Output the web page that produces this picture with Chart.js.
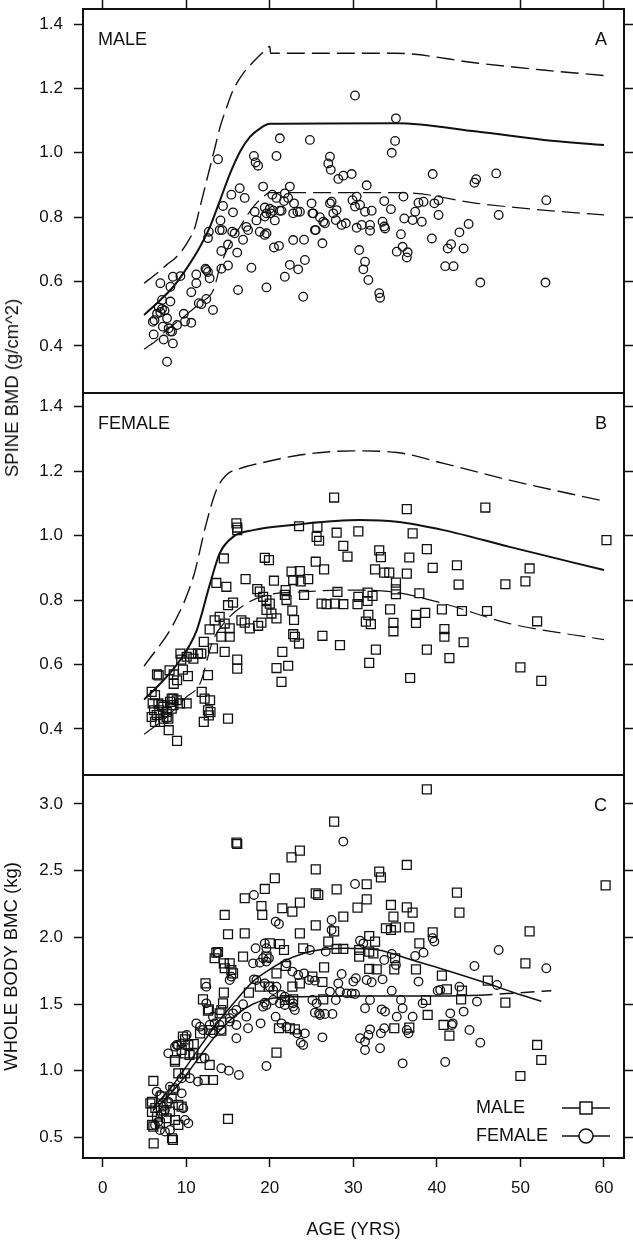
<!DOCTYPE html>
<html>
<head>
<meta charset="utf-8">
<script src="https://cdn.jsdelivr.net/npm/chart.js@4.4.1/dist/chart.umd.min.js"></script>
<style>
  body { margin: 0; background: #fff; width: 633px; height: 1241px; position: relative; overflow: hidden; font-family: "Liberation Sans", Arial, sans-serif; }
  canvas { position: absolute; left: 0; }
  #spineTitle { position: absolute; left: 12px; top: 388px; transform: translate(-50%, -50%) rotate(-90deg); font-size: 18.5px; color: #111; white-space: nowrap; }
</style>
</head>
<body>
<canvas id="chartA" width="633" height="396" style="top:0"></canvas>
<canvas id="chartB" width="633" height="390" style="top:389px"></canvas>
<canvas id="chartC" width="633" height="470" style="top:771px"></canvas>
<div id="spineTitle">SPINE BMD (g/cm^2)</div>
<script>
// ---- data (age in years, value) ----
const ageTicks = [0, 10, 20, 30, 40, 50, 60];
const spineTicks = [0.4, 0.6, 0.8, 1.0, 1.2, 1.4];
const bmcTicks = [0.5, 1.0, 1.5, 2.0, 2.5, 3.0];

// panel A: male spine BMD
const maleSpinePts = [
  [13.8,0.98],[18.1,0.99],[18.3,0.97],[18.6,0.96],[20.8,0.99],[21.2,1.045],[24.8,1.04],
  [19.2,0.895],[16.4,0.89],[15.4,0.87],[17.0,0.86],[14.4,0.835],[15.6,0.815],
  [14.0,0.76],[14.3,0.76],[14.1,0.79],[15.5,0.755],[15.8,0.75],[16.8,0.73],[16.1,0.69],[15.0,0.715],[14.2,0.695],[15.0,0.65],[14.2,0.64],
  [12.6,0.735],[12.7,0.755],[12.3,0.64],[12.4,0.636],[12.6,0.63],[12.8,0.61],[11.2,0.595],[10.6,0.567],[11.2,0.622],[11.5,0.533],[11.8,0.53],[12.4,0.546],[13.2,0.512],
  [9.3,0.617],[8.4,0.615],[6.9,0.595],[8.1,0.584],[7.1,0.543],[8.1,0.538],
  [6.7,0.52],[7.1,0.515],[7.4,0.51],[6.5,0.5],[6.9,0.505],[6.0,0.475],[6.2,0.48],[7.7,0.486],[9.7,0.5],[9.85,0.476],[10.6,0.472],[8.9,0.465],[7.2,0.46],[7.9,0.455],[8.3,0.445],[8.1,0.445],[6.1,0.436],[7.3,0.42],[8.4,0.408],[7.7,0.351],
  [19.6,0.582],[16.2,0.574],[17.8,0.643],[24.0,0.553],[21.8,0.615],[22.4,0.652],[23.4,0.638],[24.2,0.667],[22.8,0.729],[20.5,0.706],[21.1,0.711],
  [19.6,0.75],[19.4,0.745],[18.8,0.755],[17.4,0.76],[17.2,0.77],[18.4,0.79],[19.4,0.802],[19.6,0.812],[20.1,0.812],[20.6,0.79],[18.2,0.817],[20.4,0.82],[21.2,0.82],[21.4,0.82],[19.4,0.83],[20.0,0.826],[21.7,0.85],[22.8,0.812],[23.6,0.817],[25.0,0.843],[25.2,0.812],[25.4,0.76],[24.1,0.73],
  [21.8,0.874],[22.4,0.895],[22.2,0.86],[22.9,0.843],[23.3,0.817],[20.3,0.87],[20.8,0.86],
  [30.2,1.178],[35.1,1.107],[35.0,1.037],[34.6,1.0],[27.2,0.988],[27.0,0.967],[27.3,0.947],[28.2,0.919],[28.8,0.929],[29.8,0.934],[31.6,0.899],[39.5,0.934],[44.5,0.907],[44.7,0.918],[47.1,0.936],[53.1,0.853],[47.4,0.807],
  [25.1,0.812],[26.0,0.8],[26.4,0.786],[26.6,0.781],[25.5,0.76],[26.3,0.719],[27.2,0.843],[27.4,0.848],[27.6,0.812],[28.0,0.822],[27.9,0.791],[28.6,0.776],[29.1,0.781],[29.9,0.853],[30.4,0.864],[30.2,0.833],[30.8,0.838],[31.4,0.817],[32.2,0.82],[30.4,0.767],[31.0,0.776],[32.0,0.776],[32.0,0.758],[30.7,0.698],[31.4,0.662],[31.2,0.638],[31.8,0.605],[33.1,0.564],[33.2,0.55],
  [33.7,0.85],[34.5,0.825],[33.5,0.786],[33.7,0.771],[33.8,0.765],[35.7,0.747],[35.2,0.693],[35.9,0.708],[36.5,0.691],[36.4,0.675],[36.0,0.864],[36.1,0.796],[37.1,0.791],[37.4,0.817],[37.8,0.845],[38.4,0.848],[38.2,0.786],[39.4,0.734],[39.7,0.843],[40.2,0.853],[40.2,0.807],
  [41.3,0.703],[41.7,0.716],[41.0,0.648],[42.0,0.648],[42.7,0.753],[43.2,0.703],[43.8,0.779],[45.2,0.597],[53.0,0.597]
];
const maleSpineUpper = [[4.95,0.595],[6.5,0.626],[7.65,0.652],[8.85,0.677],[10.05,0.718],[11.05,0.77],[11.65,0.832],[12.25,0.894],[12.85,0.956],[13.45,1.018],[14.05,1.08],[14.85,1.142],[15.6,1.194],[16.8,1.246],[18.0,1.282],[19.2,1.313],[20.0,1.33],[20.1,1.309],[35,1.309],[45,1.278],[52.7,1.257],[60,1.24]];
const maleSpineMid = [[4.95,0.496],[6.9,0.543],[8.45,0.584],[10.05,0.641],[11.65,0.708],[12.85,0.771],[14.05,0.853],[15.25,0.936],[16.45,1.004],[17.65,1.05],[18.85,1.076],[20.0,1.09],[35.2,1.092],[44.8,1.066],[52.8,1.04],[60,1.024]];
const maleSpineLower = [[4.95,0.39],[6.46,0.418],[7.66,0.45],[9.26,0.481],[10.45,0.507],[11.65,0.533],[13.25,0.574],[14.05,0.646],[15.25,0.719],[16.45,0.771],[18.05,0.833],[19.25,0.864],[20.0,0.876],[36,0.876],[44.8,0.843],[52.7,0.822],[60,0.807]];

// panel B: female spine BMD
const femaleSpinePts = [
  [16.0,1.038],[16.1,1.025],[16.1,1.017],[23.5,1.029],[14.5,0.929],[19.4,0.931],[19.9,0.924],[17.1,0.865],[13.6,0.853],[14.8,0.841],[20.5,0.86],[22.6,0.888],[23.6,0.89],[22.8,0.862],[23.7,0.858],[24.6,0.865],
  [18.5,0.834],[18.8,0.826],[19.2,0.81],[19.6,0.8],[20.0,0.789],[21.9,0.831],[21.8,0.816],[22.0,0.8],[24.1,0.816],[15.0,0.784],[15.6,0.792],[19.6,0.769],[20.2,0.758],[20.8,0.743],[22.7,0.767],[22.9,0.738],
  [16.6,0.737],[17.0,0.73],[17.6,0.712],[18.6,0.72],[19.0,0.73],[12.8,0.709],[13.4,0.737],[14.0,0.748],[14.6,0.727],[15.2,0.712],[15.2,0.686],[14.2,0.686],[13.2,0.65],[14.6,0.639],[22.8,0.694],[23.0,0.686],[23.5,0.665],
  [12.1,0.67],[11.4,0.634],[11.8,0.634],[10.85,0.618],[10.05,0.624],[9.3,0.634],[9.4,0.615],[10.6,0.634],[9.6,0.584],[10.2,0.564],[12.6,0.567],[16.1,0.615],[16.1,0.587],[20.8,0.589],[22.2,0.596],[21.5,0.639],[21.4,0.546],
  [6.5,0.569],[6.7,0.566],[8.0,0.582],[8.5,0.569],[8.5,0.54],[8.9,0.551],
  [5.86,0.515],[6.26,0.505],[5.98,0.479],[6.14,0.458],[6.46,0.443],[6.26,0.422],[6.78,0.458],[7.26,0.469],[7.66,0.453],[8.06,0.484],[8.46,0.494],[8.86,0.489],[9.25,0.479],[10.05,0.479],[7.66,0.437],[7.26,0.432],[7.86,0.432],
  [6.66,0.479],[7.06,0.474],[8.46,0.474],[8.26,0.463],[5.86,0.437],[6.86,0.422],[8.26,0.494],[7.9,0.396],[8.9,0.363],
  [11.85,0.515],[12.2,0.494],[12.85,0.489],[12.6,0.458],[12.9,0.452],[12.1,0.422],[12.7,0.442],[15.0,0.432],
  [27.7,1.118],[36.4,1.082],[45.8,1.087],[60.3,0.986],[25.7,1.027],[25.6,0.996],[25.9,0.984],[28.0,1.009],[30.6,1.013],[37.1,1.007],[28.8,0.968],[29.3,0.935],[33.1,0.954],[33.3,0.933],[38.8,0.958],[36.7,0.932],[25.5,0.919],[26.5,0.895],
  [32.6,0.895],[33.7,0.885],[34.3,0.885],[36.4,0.882],[39.5,0.9],[42.4,0.908],[51.1,0.898],[42.6,0.848],[48.2,0.849],[50.6,0.858],[28.1,0.825],[35.1,0.854],[35.1,0.833],[35.1,0.818],[37.9,0.821],
  [30.6,0.81],[31.7,0.823],[32.3,0.813],[30.5,0.787],[31.7,0.797],[26.2,0.789],[26.8,0.787],[27.8,0.789],[28.8,0.787],[34.4,0.771],[31.8,0.754],[31.5,0.733],[32.1,0.725],[34.8,0.729],[34.8,0.703],
  [37.5,0.754],[37.5,0.729],[38.6,0.76],[40.6,0.771],[43.0,0.766],[46.0,0.766],[52.0,0.734],[40.9,0.71],[40.9,0.686],[26.3,0.689],[28.4,0.66],[32.7,0.646],[31.9,0.605],[38.8,0.646],[43.2,0.669],[41.5,0.62],[36.8,0.558],[50.0,0.591],[52.5,0.549]
];
const femaleSpineUpper = [[4.95,0.595],[8.5,0.727],[10.85,0.872],[12.4,1.038],[13.6,1.141],[14.8,1.188],[16.4,1.208],[19.6,1.229],[23.6,1.25],[30,1.263],[35.2,1.258],[40.8,1.224],[48.7,1.172],[60,1.107]];
const femaleSpineMid = [[4.95,0.491],[6.9,0.541],[9.25,0.613],[11.25,0.706],[12.85,0.851],[14.0,0.945],[15.6,0.996],[18.0,1.017],[22.8,1.033],[30.8,1.048],[35.2,1.043],[40.8,1.017],[48.7,0.965],[60,0.893]];
const femaleSpineLower = [[4.95,0.383],[7.65,0.437],[10.05,0.5],[11.65,0.541],[13.2,0.675],[14.8,0.737],[17.2,0.789],[19.6,0.815],[23.6,0.825],[30,0.831],[34.8,0.825],[40.8,0.789],[48.7,0.727],[60,0.677]];

// panel C: whole body BMC
const maleBmcPts = [
  [16.0,2.71],[16.1,2.70],[22.6,2.60],[23.6,2.65],[25.5,2.51],[20.6,2.443],[19.4,2.363],[17.0,2.293],[19.0,2.235],[19.1,2.168],[21.5,2.218],[22.7,2.193],[23.6,2.26],[14.6,2.168],[15.0,2.023],[17.0,2.03],[23.6,2.03],[25.5,2.09],[25.5,2.33],
  [13.6,1.885],[13.8,1.89],[13.4,1.843],[14.5,1.805],[15.2,1.805],[14.6,1.768],[15.4,1.755],[15.6,1.73],[16.8,1.855],[20.0,1.955],[21.2,1.95],[21.7,1.905],[19.6,1.855],[24.0,1.918],
  [12.3,1.655],[12.0,1.535],[12.7,1.46],[14.5,1.585],[14.2,1.455],[14.0,1.43],[17.5,1.585],[18.8,1.63],[19.9,1.63],[20.8,1.73],[21.9,1.785],[22.7,1.63],[23.6,1.655],[21.8,1.53],[22.8,1.535],[25.1,1.705],
  [21.1,1.318],[22.4,1.318],[23.0,1.31],[11.65,1.28],[9.6,1.255],[9.85,1.235],[20.8,1.135],[8.65,1.08],
  [38.8,3.11],[27.7,2.868],[36.4,2.543],[33.1,2.493],[33.3,2.45],[31.6,2.398],[25.8,2.318],[28.0,2.36],[42.4,2.335],[42.7,2.185],[31.6,2.285],[30.5,2.223],[28.8,2.155],[34.5,2.243],[36.4,2.225],[37.1,2.185],[34.8,2.155],
  [33.9,2.068],[34.5,2.055],[35.1,2.075],[36.7,2.075],[27.7,2.045],[27.0,1.968],[28.0,1.913],[28.8,1.913],[31.9,2.01],[32.6,1.968],[30.7,1.905],[30.7,1.855],[31.9,1.893],[32.4,1.88],[37.9,1.955],[39.5,2.038],[51.1,2.045],[50.6,1.805],[60.2,2.39],
  [26.5,1.775],[31.9,1.763],[32.8,1.76],[35.0,1.843],[34.9,1.76],[37.5,1.76],[26.3,1.665],[40.6,1.713],[46.1,1.675],[41.2,1.61],[43.0,1.6],[26.4,1.535],[38.7,1.53],[42.9,1.535],[48.2,1.51],[38.9,1.418],
  [34.9,1.318],[36.7,1.323],[40.8,1.343],[41.5,1.263],[52.0,1.193],[52.5,1.08],[50.0,0.96],
  [6.06,0.923],[5.7,0.755],[5.9,0.69],[5.9,0.593],[6.06,0.58],[6.1,0.455],[8.3,0.493],[8.4,0.48],
  [7.06,0.805],[7.65,0.755],[8.25,0.793],[8.45,0.855],[8.05,0.693],[7.65,0.643],[9.05,0.593],[8.65,0.63],[9.05,0.743],[9.45,0.73],[5.9,0.767],[6.3,0.72],[6.5,0.655],[6.85,0.605],[7.3,0.7],
  [8.65,1.068],[9.05,0.98],[9.85,0.98],[9.85,1.13],[10.4,1.118],[12.2,0.93],[13.2,0.93],[15.0,0.638],[10.25,1.193],[10.85,1.13],[11.8,1.093],[12.8,1.043],
  [12.9,1.305],[14.2,1.3],[12.6,1.45],[14.4,1.505],[9.45,1.155],[10.9,1.2]
];
const femaleBmcPts = [
  [18.1,2.318],[20.7,2.118],[21.1,2.1],[13.8,1.885],[15.2,1.68],[15.4,1.705],[12.4,1.63],[18.3,1.918],[19.4,1.955],[19.6,1.918],[19.2,1.843],[18.8,1.81],[19.6,1.818],[18.0,1.805],[19.9,1.843],[22.0,1.805],[24.8,1.905],[18.4,1.68],[18.1,1.685],
  [19.4,1.655],[20.0,1.63],[20.4,1.605],[20.8,1.63],[21.4,1.568],[21.8,1.555],[22.4,1.53],[22.8,1.505],[22.7,1.743],[23.4,1.718],[24.1,1.73],[24.7,1.68],[25.4,1.675],[25.1,1.53],[25.6,1.505],[25.9,1.43],
  [19.4,1.51],[19.2,1.48],[19.6,1.493],[20.4,1.53],[21.2,1.505],[21.8,1.493],[22.8,1.48],[23.0,1.455],[16.8,1.498],[16.0,1.455],[17.2,1.405],[17.4,1.318],[15.2,1.393],[15.6,1.43],[16.0,1.343],[15.2,1.368],
  [12.4,1.505],[13.2,1.405],[12.8,1.343],[13.4,1.355],[11.2,1.355],[11.65,1.33],[12.0,1.305],[10.05,1.268],[9.45,1.205],[8.65,1.18],[7.85,1.13],[14.0,1.343],[14.2,1.305],[13.2,1.28],
  [16.0,1.243],[18.9,1.355],[20.7,1.405],[21.4,1.355],[22.0,1.33],[23.3,1.28],[23.7,1.21],[24.0,1.193],[19.6,1.035],
  [28.8,2.718],[30.2,2.4],[27.4,2.13],[27.4,2.055],[30.8,1.975],[31.2,1.955],[39.5,1.993],[39.7,1.968],[26.7,1.893],[47.4,1.905],[34.6,1.875],[37.4,1.86],[38.4,1.885],[44.5,1.785],[53.1,1.768],[33.7,1.83],[35.1,1.793],
  [28.6,1.725],[30.0,1.668],[30.3,1.693],[31.6,1.68],[32.2,1.663],[33.5,1.685],[28.2,1.655],[27.2,1.593],[28.4,1.593],[29.2,1.58],[29.8,1.58],[27.9,1.53],[30.2,1.575],
  [32.0,1.53],[31.4,1.468],[34.6,1.6],[35.7,1.53],[35.9,1.468],[37.1,1.405],[37.8,1.668],[38.3,1.505],[40.1,1.6],[40.4,1.605],[42.7,1.63],[44.8,1.518],[47.2,1.643],
  [25.4,1.435],[26.0,1.418],[26.6,1.425],[27.5,1.425],[33.4,1.46],[33.8,1.443],[35.2,1.405],[41.6,1.43],[41.9,1.355],[41.8,1.343],[43.2,1.443],
  [32.0,1.31],[30.8,1.243],[31.4,1.218],[31.4,1.155],[31.8,1.268],[33.7,1.318],[33.3,1.28],[33.2,1.168],[36.6,1.28],[36.4,1.305],[43.9,1.305],[45.2,1.21],[26.3,1.25],[35.9,1.055],[41.0,1.065],[24.2,1.28],
  [8.85,1.193],[6.46,0.843],[6.86,0.818],[7.25,0.73],[7.06,0.68],[7.45,0.705],[6.66,0.618],[6.86,0.555],[7.45,0.543],[8.05,0.555],[9.65,0.718],[9.85,0.63],[10.25,0.605],
  [9.45,0.943],[10.45,0.943],[11.4,0.918],[14.2,1.018],[15.1,1.0],[16.3,0.968],[12.2,1.093],[8.05,0.88],[8.65,0.868],[9.45,0.83],[7.85,0.768],[6.26,0.593],[9.0,1.19]
];
const maleBmcFit = [[6,0.72],[8,0.86],[10,1.03],[12,1.21],[14,1.38],[16,1.53],[18,1.67],[20,1.76],[22,1.83],[25,1.895],[29,1.918],[33,1.905],[37,1.83],[41,1.755],[46,1.655],[49,1.59],[52.5,1.52]];
const femaleBmcFit = [[6,0.7],[8,0.82],[10,0.97],[12,1.14],[14,1.3],[16,1.42],[18,1.5],[20,1.54],[24,1.555],[30,1.56],[40,1.56],[45,1.565],[50,1.585],[53.7,1.6]];

// ---- helpers ----
const FONT_FAMILY = '"Liberation Sans", Arial, sans-serif';
const INK = '#111';
const toXY = pts => pts.map(([x, y]) => ({x, y}));
const fixTicks = vals => s => { s.ticks = vals.map(v => ({value: v})); };
const tickGrid = () => ({display: true, drawOnChartArea: false, drawTicks: true, tickLength: 9, tickColor: INK, tickWidth: 1.5});
// keep the layout from reserving room for end labels
const noPad = s => { s.paddingTop = 0; s.paddingBottom = 0; s.paddingLeft = 0; s.paddingRight = 0; };

function xScale(position, showLabels) {
  return {
    type: 'linear', position, min: -2.36, max: 62.4, bounds: 'data',
    afterBuildTicks: fixTicks(ageTicks),
    afterFit: s => { noPad(s); s.height = showLabels ? 83 : (position === 'top' ? 9 : 0); },
    grid: showLabels || position === 'top' ? tickGrid() : {display: false},
    border: {display: false},
    ticks: {display: showLabels, autoSkip: false, maxRotation: 0, padding: 11, color: INK, font: {family: FONT_FAMILY, size: 17}},
    title: {display: showLabels, text: 'AGE (YRS)', color: INK, font: {family: FONT_FAMILY, size: 18.5}, padding: {top: 0, bottom: 0}}
  };
}
function yScales(min, max, ticks, title) {
  return {
    y: {
      type: 'linear', position: 'left', min, max, bounds: 'data',
      afterBuildTicks: fixTicks(ticks),
      afterFit: s => { noPad(s); s.width = 83; },
      grid: tickGrid(), border: {display: false},
      ticks: {autoSkip: false, padding: 11, color: INK, font: {family: FONT_FAMILY, size: 17}, callback: v => Number(v).toFixed(1)},
      title: {display: !!title, text: title || '', color: INK, font: {family: FONT_FAMILY, size: 18.5}, padding: {top: 1, bottom: 0}}
    },
    y2: {
      type: 'linear', position: 'right', min, max, bounds: 'data',
      afterBuildTicks: fixTicks(ticks),
      afterFit: s => { noPad(s); s.width = 9; },
      grid: tickGrid(), border: {display: false},
      ticks: {display: false}
    }
  };
}
function points(label, pts, style, r) {
  return {label, data: toXY(pts), pointStyle: style, pointRadius: r, pointHoverRadius: r,
    pointBorderColor: INK, pointBackgroundColor: 'rgba(0,0,0,0)', pointBorderWidth: 1.3, showLine: false};
}
function curve(label, pts, width, dash) {
  return {label, data: toXY(pts), showLine: true, borderColor: INK, borderWidth: width, borderDash: dash || [],
    pointRadius: 0, fill: false, cubicInterpolationMode: 'monotone'};
}

const framePlugin = {
  id: 'frame',
  afterDraw(chart) {
    const {ctx, chartArea: a} = chart;
    ctx.save();
    ctx.strokeStyle = INK; ctx.lineWidth = 2;
    ctx.strokeRect(a.left, a.top, a.right - a.left, a.bottom - a.top);
    ctx.restore();
  }
};
const panelTextPlugin = {
  id: 'panelText',
  afterDraw(chart, args, opts) {
    const {ctx, chartArea: a} = chart;
    ctx.save();
    ctx.font = '18px ' + FONT_FAMILY; ctx.fillStyle = INK; ctx.textBaseline = 'middle';
    if (opts.left) { ctx.textAlign = 'left'; ctx.fillText(opts.left, a.left + 15, a.top + 31); }
    if (opts.right) { ctx.textAlign = 'right'; ctx.fillText(opts.right, a.right - 17, a.top + 31); }
    ctx.restore();
  }
};
const legendBoxPlugin = {
  id: 'legendBox',
  afterDraw(chart, args, opts) {
    if (!opts.items) return;
    const {ctx, chartArea: a} = chart;
    ctx.save();
    ctx.font = '18px ' + FONT_FAMILY; ctx.fillStyle = INK; ctx.strokeStyle = INK; ctx.textBaseline = 'middle'; ctx.textAlign = 'left';
    opts.items.forEach((it, i) => {
      const y = a.bottom - 50 + i * 28;
      ctx.fillText(chart.data.datasets[it.dataset].label, a.left + 393, y);
      ctx.lineWidth = 1.5;
      ctx.beginPath(); ctx.moveTo(a.left + 479, y); ctx.lineTo(a.left + 527, y); ctx.stroke();
      const cx = a.left + 503;
      ctx.beginPath();
      if (it.style === 'rect') ctx.rect(cx - 6, y - 6, 12, 12);
      else ctx.arc(cx, y, 7, 0, Math.PI * 2);
      ctx.fillStyle = '#fff'; ctx.fill(); ctx.stroke(); ctx.fillStyle = INK;
    });
    ctx.restore();
  }
};

const baseOptions = (scales, padding, panel, legendItems) => ({
  responsive: false, animation: false, events: [],
  layout: {padding, autoPadding: false},
  scales,
  plugins: {legend: {display: false}, tooltip: {enabled: false}, panelText: panel, legendBox: {items: legendItems}}
});

// panel A
new Chart(document.getElementById('chartA'), {
  type: 'scatter',
  data: {datasets: [
    points('MALE', maleSpinePts, 'circle', 4.3),
    curve('upper', maleSpineUpper, 1.4, [18, 7]),
    curve('mean', maleSpineMid, 2),
    curve('lower', maleSpineLower, 1.2, [18, 7])
  ]},
  options: baseOptions(Object.assign({x: xScale('top', false)}, yScales(0.254, 1.4466, spineTicks)), {top: 0, bottom: 3, left: 0, right: 0}, {left: 'MALE', right: 'A'}),
  plugins: [framePlugin, panelTextPlugin, legendBoxPlugin]
});

// panel B
new Chart(document.getElementById('chartB'), {
  type: 'scatter',
  data: {datasets: [
    points('FEMALE', femaleSpinePts, 'rect', 6.3),
    curve('upper', femaleSpineUpper, 1.4, [18, 7]),
    curve('mean', femaleSpineMid, 2),
    curve('lower', femaleSpineLower, 1.2, [18, 7])
  ]},
  options: baseOptions(Object.assign({x: xScale('bottom', false)}, yScales(0.257, 1.4425, spineTicks)), {top: 4, bottom: 4, left: 0, right: 0}, {left: 'FEMALE', right: 'B'}),
  plugins: [framePlugin, panelTextPlugin, legendBoxPlugin]
});

// panel C
const femaleFit = curve('female fit', femaleBmcFit, 1.5);
femaleFit.segment = {borderDash: c => c.p0.parsed.x >= 44 ? [14, 7] : undefined};
new Chart(document.getElementById('chartC'), {
  type: 'scatter',
  data: {datasets: [
    points('MALE', maleBmcPts, 'rect', 6.3),
    points('FEMALE', femaleBmcPts, 'circle', 4.3),
    curve('male fit', maleBmcFit, 1.5),
    femaleFit
  ]},
  options: baseOptions(Object.assign({x: xScale('bottom', true)}, yScales(0.345, 3.2175, bmcTicks, 'WHOLE BODY BMC (kg)')), {top: 4, bottom: 0, left: 0, right: 0}, {right: 'C'},
    [{dataset: 0, style: 'rect'}, {dataset: 1, style: 'circle'}]),
  plugins: [framePlugin, panelTextPlugin, legendBoxPlugin]
});
</script>
</body>
</html>
